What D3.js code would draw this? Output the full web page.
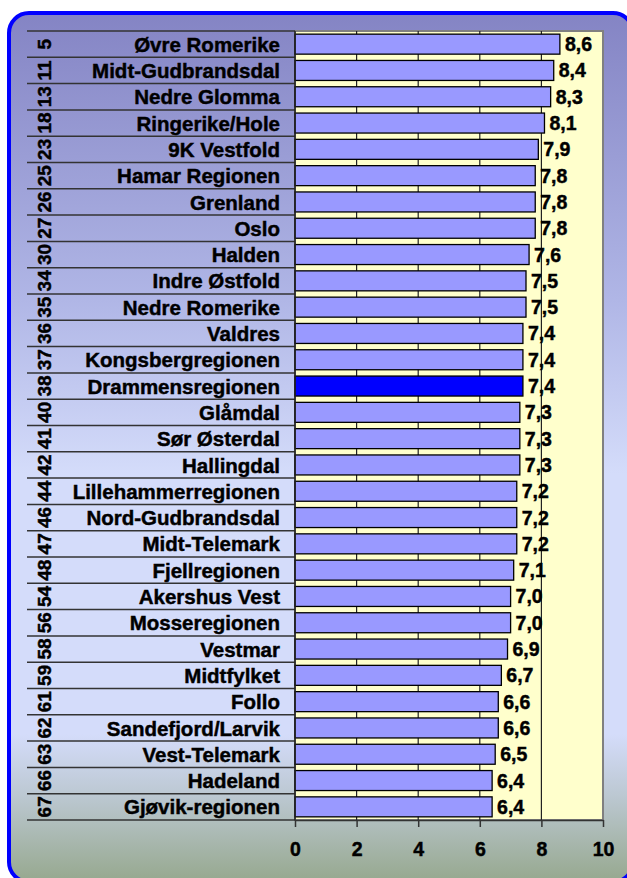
<!DOCTYPE html>
<html>
<head>
<meta charset="utf-8">
<script src="https://cdn.jsdelivr.net/npm/d3@7"></script>
<style>
  html, body { margin: 0; padding: 0; background: #fff; }
  svg { display: block; }
  text { font-family: "Liberation Sans", Arial, sans-serif; font-weight: bold; fill: #000; stroke: #000; stroke-width: 0.45px; }
</style>
</head>
<body>
<div id="chart"></div>
<script>
const ranks = [5, 11, 13, 18, 23, 25, 26, 27, 30, 34, 35, 36, 37, 38, 40, 41, 42, 44, 46, 47, 48, 54, 56, 58, 59, 61, 62, 63, 66, 67];
const regions = [
  'Øvre Romerike', 'Midt-Gudbrandsdal', 'Nedre Glomma', 'Ringerike/Hole', '9K Vestfold',
  'Hamar Regionen', 'Grenland', 'Oslo', 'Halden', 'Indre Østfold',
  'Nedre Romerike', 'Valdres', 'Kongsbergregionen', 'Drammensregionen', 'Glåmdal',
  'Sør Østerdal', 'Hallingdal', 'Lillehammerregionen', 'Nord-Gudbrandsdal', 'Midt-Telemark',
  'Fjellregionen', 'Akershus Vest', 'Mosseregionen', 'Vestmar', 'Midtfylket',
  'Follo', 'Sandefjord/Larvik', 'Vest-Telemark', 'Hadeland', 'Gjøvik-regionen'
];
const values = [8.6, 8.4, 8.3, 8.1, 7.9, 7.8, 7.8, 7.8, 7.6, 7.5, 7.5, 7.4, 7.4, 7.4, 7.3, 7.3, 7.3, 7.2, 7.2, 7.2, 7.1, 7.0, 7.0, 6.9, 6.7, 6.6, 6.6, 6.5, 6.4, 6.4];
const highlighted = 'Drammensregionen';
const xTicks = [0, 2, 4, 6, 8, 10];

const cfg = {
  width: 627,
  height: 878,
  plot: { left: 295, right: 603, top: 31, bottom: 820 },
  tableLeft: 27,
  labelX: 280,
  rankX: 51,
  barColor: '#9999ff',
  highlightColor: '#0000ff',
  plotColor: '#ffffcc'
};

const data = regions.map((name, i) => ({ name, rank: ranks[i], value: values[i] }));
const fmt = v => d3.format('.1f')(v).replace('.', ',');

const svg = d3.select('#chart')
  .append('svg')
  .attr('width', cfg.width)
  .attr('height', cfg.height);

// background gradient of the frame
const grad = svg.append('defs').append('linearGradient')
  .attr('id', 'bg')
  .attr('x1', 0).attr('y1', 0).attr('x2', 0).attr('y2', 1);
[[0, '#8484c4'], [0.33, '#b0b6e6'], [0.53, '#d4dcfa'], [0.83, '#d4dcfa'], [0.9, '#bcc8d2'], [1, '#96a88e']]
  .forEach(([o, c]) => grad.append('stop').attr('offset', o).attr('stop-color', c));

svg.append('rect')
  .attr('x', 9).attr('y', 13)
  .attr('width', 624).attr('height', 869)
  .attr('rx', 20).attr('ry', 20)
  .attr('fill', 'url(#bg)')
  .attr('stroke', '#0000ff')
  .attr('stroke-width', 4);

const x = d3.scaleLinear()
  .domain([0, 10])
  .range([cfg.plot.left, cfg.plot.right]);

const y = d3.scaleBand()
  .domain(regions)
  .range([cfg.plot.top, cfg.plot.bottom])
  .paddingInner(0.24)
  .paddingOuter(0.12);

const step = y.step();
const rowTop = name => y(name) - y.paddingOuter() * step;

// plot area
svg.append('rect')
  .attr('x', x(0)).attr('y', cfg.plot.top)
  .attr('width', x(10) - x(0)).attr('height', cfg.plot.bottom - cfg.plot.top)
  .attr('fill', cfg.plotColor)
  .attr('stroke', '#808080')
  .attr('stroke-width', 2);

// grid lines
svg.append('g')
  .selectAll('line')
  .data(xTicks.filter(t => t > 0 && t < 10))
  .join('line')
  .attr('x1', d => x(d)).attr('x2', d => x(d))
  .attr('y1', cfg.plot.top).attr('y2', cfg.plot.bottom)
  .attr('stroke', '#222')
  .attr('stroke-width', 1.2);

// row separators in the label table
const rowEdges = regions.map(rowTop).concat([cfg.plot.bottom]);
svg.append('g')
  .selectAll('line')
  .data(rowEdges)
  .join('line')
  .attr('x1', cfg.tableLeft).attr('x2', x(0))
  .attr('y1', d => d).attr('y2', d => d)
  .attr('stroke', '#333')
  .attr('stroke-width', 1.5);

// bars
svg.append('g')
  .selectAll('rect')
  .data(data)
  .join('rect')
  .attr('x', x(0))
  .attr('y', d => y(d.name))
  .attr('width', d => x(d.value) - x(0))
  .attr('height', y.bandwidth())
  .attr('fill', d => d.name === highlighted ? cfg.highlightColor : cfg.barColor)
  .attr('stroke', '#000')
  .attr('stroke-width', 1.3);

// left axis line
svg.append('line')
  .attr('x1', x(0)).attr('x2', x(0))
  .attr('y1', cfg.plot.top).attr('y2', cfg.plot.bottom)
  .attr('stroke', '#222')
  .attr('stroke-width', 1.5);

// value labels
svg.append('g')
  .selectAll('text')
  .data(data)
  .join('text')
  .attr('x', d => x(d.value) + 5)
  .attr('y', d => y(d.name) + y.bandwidth() / 2)
  .attr('dy', '0.36em')
  .style('font-size', '19.5px')
  .text(d => fmt(d.value));

// category labels
svg.append('g')
  .selectAll('text')
  .data(data)
  .join('text')
  .attr('x', cfg.labelX)
  .attr('y', d => y(d.name) + y.bandwidth() / 2)
  .attr('dy', '0.37em')
  .attr('text-anchor', 'end')
  .style('font-size', '20.5px')
  .text(d => d.name);

// rank numbers, rotated
svg.append('g')
  .selectAll('text')
  .data(data)
  .join('text')
  .attr('transform', d => `translate(${cfg.rankX},${y(d.name) + y.bandwidth() / 2}) rotate(-90)`)
  .attr('text-anchor', 'middle')
  .style('font-size', '19px')
  .text(d => d.rank);

// bottom axis
const xAxis = svg.append('g')
  .attr('transform', `translate(0,${cfg.plot.bottom})`)
  .call(d3.axisBottom(x).tickValues(xTicks).tickSize(7).tickPadding(15).tickSizeOuter(0));
xAxis.select('.domain').attr('stroke', '#333').attr('stroke-width', 1.5);
xAxis.selectAll('.tick line').attr('stroke', '#333').attr('stroke-width', 1.5);
xAxis.selectAll('.tick text')
  .style('font-family', '"Liberation Sans", Arial, sans-serif')
  .style('font-weight', 'bold')
  .style('font-size', '19.5px')
  .style('stroke', '#000')
  .style('stroke-width', '0.45px')
  .attr('fill', '#000');
</script>
</body>
</html>
